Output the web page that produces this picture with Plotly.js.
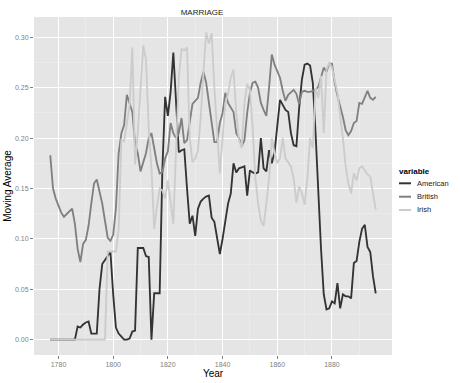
<!DOCTYPE html>
<html>
<head>
<meta charset="utf-8">
<script src="https://cdn.plot.ly/plotly-3.0.1.min.js"></script>
<style>html,body{margin:0;padding:0;background:#fff;}#chart{width:460px;height:383px;}</style>
</head>
<body>
<div id="chart"></div>
<script>
// ---- data ----
var years = [1777,1778,1779,1780,1781,1782,1783,1784,1785,1786,
  1787,1788,1789,1790,1791,1792,1793,1794,1795,1796,
  1797,1798,1799,1800,1801,1802,1803,1804,1805,1806,
  1807,1808,1809,1810,1811,1812,1813,1814,1815,1816,
  1817,1818,1819,1820,1821,1822,1823,1824,1825,1826,
  1827,1828,1829,1830,1831,1832,1833,1834,1835,1836,
  1837,1838,1839,1840,1841,1842,1843,1844,1845,1846,
  1847,1848,1849,1850,1851,1852,1853,1854,1855,1856,
  1857,1858,1859,1860,1861,1862,1863,1864,1865,1866,
  1867,1868,1869,1870,1871,1872,1873,1874,1875,1876,
  1877,1878,1879,1880,1881,1882,1883,1884,1885,1886,
  1887,1888,1889,1890,1891,1892,1893,1894,1895,1896];

var american = [0,0,0,0,0,0,0,0,0,0,
  0.013,0.012,0.015,0.017,0.018,0.006,0.006,0.006,0.050,0.075,
  0.079,0.083,0.087,0.045,0.012,0.006,0.003,0,0,0.001,
  0.008,0.009,0.091,0.091,0.091,0.083,0.082,0,0.046,0.046,
  0.046,0.170,0.241,0.222,0.246,0.285,0.230,0.186,0.188,0.189,
  0.150,0.115,0.123,0.103,0.130,0.137,0.140,0.142,0.143,0.121,
  0.117,0.100,0.085,0.100,0.118,0.135,0.145,0.175,0.166,0.170,
  0.171,0.172,0.143,0.168,0.166,0.165,0.166,0.200,0.170,0.167,
  0.188,0.175,0.186,0.210,0.238,0.233,0.228,0.226,0.205,0.193,
  0.192,0.230,0.258,0.273,0.274,0.272,0.255,0.205,0.145,0.090,
  0.045,0.030,0.031,0.038,0.036,0.056,0.031,0.045,0.043,0.043,
  0.041,0.076,0.078,0.097,0.110,0.114,0.092,0.087,0.063,0.046];

var british = [0.183,0.150,0.140,0.132,0.126,0.122,0.125,0.127,0.130,0.115,
  0.090,0.077,0.095,0.099,0.113,0.135,0.155,0.159,0.148,0.135,
  0.118,0.101,0.098,0.104,0.130,0.185,0.205,0.213,0.243,0.235,
  0.226,0.195,0.185,0.167,0.175,0.185,0.200,0.205,0.190,0.175,
  0.165,0.166,0.180,0.187,0.215,0.205,0.200,0.205,0.220,0.195,
  0.198,0.215,0.234,0.237,0.240,0.255,0.266,0.255,0.235,0.215,
  0.196,0.196,0.215,0.225,0.245,0.235,0.230,0.226,0.205,0.200,
  0.192,0.198,0.225,0.245,0.255,0.256,0.250,0.235,0.228,0.222,
  0.250,0.283,0.273,0.267,0.260,0.247,0.237,0.243,0.246,0.248,
  0.244,0.234,0.246,0.247,0.246,0.246,0.247,0.248,0.251,0.262,
  0.270,0.266,0.274,0.274,0.255,0.242,0.232,0.221,0.208,0.203,
  0.207,0.215,0.217,0.235,0.234,0.240,0.247,0.240,0.238,0.241];

var irish = [0,0,0,0,0,0,0,0,0,0,
  0,0,0,0,0,0,0,0,0,0,
  0,0.0875,0.0875,0.0875,0.0875,0.110,0.198,0.197,0.215,0.232,
  0.290,0.174,0.205,0.255,0.292,0.278,0.210,0.170,0.110,0.132,
  0.150,0.148,0.140,0.158,0.135,0.115,0.190,0.260,0.289,0.287,
  0.290,0.200,0.176,0.180,0.188,0.220,0.265,0.305,0.294,0.304,
  0.250,0.205,0.165,0.200,0.235,0.244,0.260,0.268,0.225,0.198,
  0.190,0.235,0.254,0.248,0.210,0.160,0.135,0.118,0.113,0.135,
  0.160,0.200,0.185,0.175,0.180,0.200,0.180,0.176,0.172,0.160,
  0.136,0.152,0.145,0.134,0.160,0.200,0.190,0.250,0.240,0.262,
  0.205,0.268,0.275,0.270,0.258,0.245,0.222,0.200,0.172,0.155,
  0.145,0.165,0.158,0.170,0.172,0.168,0.164,0.162,0.147,0.129];

var seriesNames = ['American','British','Irish'];
var seriesColors = ['#333333','#808080','#cccccc'];

var xTickVals = [1780,1800,1820,1840,1860,1880];
var xTickText = ['1780','1800','1820','1840','1860','1880'];
var xMinorVals = [1790,1810,1830,1850,1870,1890];
var yTickVals = [0,0.05,0.10,0.15,0.20,0.25,0.30];
var yTickText = ['0.00','0.05','0.10','0.15','0.20','0.25','0.30'];
var yMinorVals = [0.025,0.075,0.125,0.175,0.225,0.275];

// ---- traces ----
var seriesData = [american, british, irish];
var traces = seriesNames.map(function(n,i){
  return {x: years, y: seriesData[i], type:'scatter', mode:'lines', name:n,
    line:{color: seriesColors[i], width:1.85}, hoverinfo:'x+y+name'};
});

// ---- custom legend (ggplot style) ----
var legX0 = 1.0196, legX1 = 1.053, legTextX = 1.064;
var legY = [0.508, 0.4683, 0.429];
var shapes = [], annotations = [];
annotations.push({xref:'paper', yref:'paper', x:1.014, y:0.5429, xanchor:'left', yanchor:'middle',
  text:'<b>variable</b>', showarrow:false, font:{size:8, color:'#000'}});
seriesNames.forEach(function(n,i){
  shapes.push({type:'line', xref:'paper', yref:'paper', x0:legX0, x1:legX1, y0:legY[i], y1:legY[i],
    line:{color:seriesColors[i], width:2}});
  annotations.push({xref:'paper', yref:'paper', x:legTextX, y:legY[i], xanchor:'left', yanchor:'middle',
    text:n, showarrow:false, font:{size:7.5, color:'#1a1a1a'}});
});

var layout = {
  width:460, height:383,
  margin:{l:34, r:68, t:17, b:28},
  paper_bgcolor:'#ffffff', plot_bgcolor:'#e5e5e5',
  font:{family:'"Liberation Sans", Arial, sans-serif'},
  showlegend:false,
  title:{text:'MARRIAGE', font:{size:8, color:'#1a1a1a'}, x:202/460, xanchor:'center', y:1-12/383, yanchor:'middle'},
  xaxis:{range:[1771.05,1901.95], tickmode:'array', tickvals:xTickVals, ticktext:xTickText,
    showgrid:true, gridcolor:'#ffffff', gridwidth:1, zeroline:false, showline:false,
    ticks:'outside', ticklen:3, tickwidth:1, tickcolor:'#7f7f7f',
    tickfont:{size:7, color:'#7f7f7f'},
    minor:{tickmode:'array', tickvals:xMinorVals, showgrid:true, gridcolor:'#f2f2f2', gridwidth:0.5, ticks:''},
    title:{text:'Year', font:{size:10, color:'#000'}, standoff:2}},
  yaxis:{range:[-0.01527,0.32027], tickmode:'array', tickvals:yTickVals, ticktext:yTickText,
    showgrid:true, gridcolor:'#ffffff', gridwidth:1, zeroline:false, showline:false,
    ticks:'outside', ticklen:3, tickwidth:1, tickcolor:'#7f7f7f',
    tickfont:{size:7, color:'#7f7f7f'},
    minor:{tickmode:'array', tickvals:yMinorVals, showgrid:true, gridcolor:'#f2f2f2', gridwidth:0.5, ticks:''},
    title:{text:'Moving Average', font:{size:10, color:'#000'}, standoff:1}},
  shapes: shapes,
  annotations: annotations
};

Plotly.newPlot('chart', traces, layout, {displayModeBar:false, staticPlot:true});
</script>
</body>
</html>
